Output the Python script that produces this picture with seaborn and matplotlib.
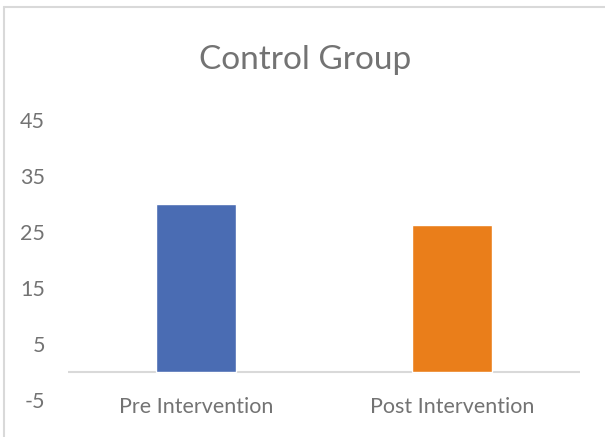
import matplotlib
matplotlib.use("Agg")
import matplotlib.pyplot as plt
import seaborn as sns
import pandas as pd
from matplotlib.lines import Line2D

categories = ["Pre Intervention", "Post Intervention"]
values = [30.0, 26.3]
colors = ["#4A6CB3", "#EA7E1A"]
yticks = [-5, 5, 15, 25, 35, 45]
title = "Control Group"

sns.set_theme(style="white")
plt.rcParams["font.family"] = ["Lato", "DejaVu Sans"]

df = pd.DataFrame({"cat": categories, "val": values})

fig = plt.figure(figsize=(6.05, 4.37), dpi=100)
ax = fig.add_axes([68 / 605, 37 / 437, 512 / 605, 280 / 437])

sns.barplot(data=df, x="cat", y="val", hue="cat", palette=colors, width=0.316,
            legend=False, saturation=1, ax=ax)

ax.set_xlim(-0.5, 1.5)
ax.set_ylim(-5, 45)
ax.set_yticks(yticks)
ax.set_yticklabels([str(t) for t in yticks])
ax.axhline(0, color="#d9d9d9", lw=1.5, zorder=0.5)
for s in ax.spines.values():
    s.set_visible(False)
ax.set_xlabel("")
ax.set_ylabel("")
ax.tick_params(axis="both", length=0, labelsize=15.5, labelcolor="#737373")
ax.tick_params(axis="y", pad=16.5)
ax.tick_params(axis="x", pad=-2)

fig.text(0.505, 1 - 60 / 437, title, ha="center", va="center", fontsize=24, color="#737373")

# chart border (top and left)
fig.add_artist(Line2D([4 / 605, 1], [1 - 7 / 437, 1 - 7 / 437], transform=fig.transFigure, color="#d9d9d9", lw=1.5))
fig.add_artist(Line2D([4 / 605, 4 / 605], [0, 1 - 7 / 437], transform=fig.transFigure, color="#d9d9d9", lw=1.5))

fig.savefig("out.png", dpi=100)
